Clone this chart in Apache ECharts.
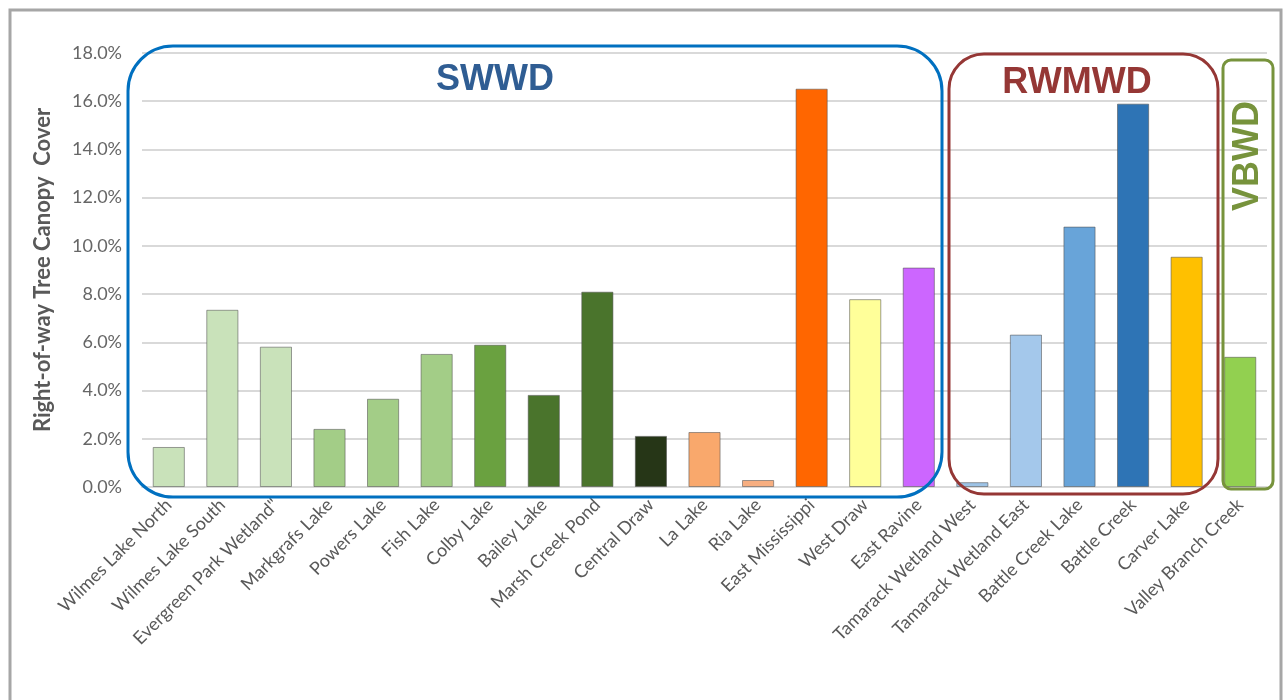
<!DOCTYPE html>
<html>
<head>
<meta charset="utf-8">
<script src="https://cdn.jsdelivr.net/npm/echarts@6/dist/echarts.min.js"></script>
<style>
  html, body { margin: 0; padding: 0; background: #fff; }
  #chart { width: 1286px; height: 700px; }
</style>
</head>
<body>
<div id="chart"></div>
<script>
// sites along the x axis
const sites = [
  'Wilmes Lake North', 'Wilmes Lake South', 'Evergreen Park Wetland"', 'Markgrafs Lake',
  'Powers Lake', 'Fish Lake', 'Colby Lake', 'Bailey Lake', 'Marsh Creek Pond',
  'Central Draw', 'La Lake', 'Ria Lake', 'East Mississippi', 'West Draw', 'East Ravine',
  'Tamarack Wetland West', 'Tamarack Wetland East', 'Battle Creek Lake', 'Battle Creek',
  'Carver Lake', 'Valley Branch Creek'
];
// canopy cover, percent
const canopy = [
  1.66, 7.35, 5.82, 2.41, 3.66, 5.52, 5.9, 3.82, 8.1,
  2.12, 2.28, 0.29, 16.52, 7.79, 9.1,
  0.2, 6.32, 10.8, 15.9, 9.55, 5.4
];
const barColors = [
  '#c9e2ba', '#c9e2ba', '#c9e2ba', '#a3cd87', '#a3cd87', '#a3cd87', '#6aa140', '#4a742c', '#4a742c',
  '#263617', '#f9a86c', '#f7ae80', '#ff6600', '#ffff99', '#cc66ff',
  '#9dc3e6', '#a4c8eb', '#68a4d9', '#2e74b5', '#ffc000', '#92d050'
];
const yTicks = [0, 2, 4, 6, 8, 10, 12, 14, 16, 18];

const chart = echarts.init(document.getElementById('chart'));

const option = {
  animation: false,
  textStyle: { fontFamily: 'Lato' },
  grid: { left: 142, right: 19, top: 53, bottom: 213 },
  xAxis: {
    type: 'category',
    data: sites,
    axisLine: { lineStyle: { color: '#d9d9d9', width: 2 } },
    axisTick: { show: false },
    axisLabel: {
      interval: 0,
      rotate: 45,
      margin: 15,
      fontSize: 18,
      color: '#595959'
    }
  },
  yAxis: {
    type: 'value',
    min: yTicks[0],
    max: yTicks[yTicks.length - 1],
    interval: 2,
    name: 'Right-of-way Tree Canopy  Cover',
    nameLocation: 'middle',
    nameGap: 88,
    nameTextStyle: { fontSize: 22, fontWeight: 'bold', color: '#595959' },
    axisLine: { show: false },
    axisTick: { show: false },
    axisLabel: {
      fontSize: 18,
      color: '#666666',
      margin: 20,
      formatter: v => v.toFixed(1) + '%'
    },
    splitLine: { lineStyle: { color: '#d9d9d9', width: 2 } }
  },
  series: [{
    type: 'bar',
    barCategoryGap: '40%',
    data: canopy.map((v, i) => ({
      value: v,
      itemStyle: { color: barColors[i] }
    })),
    itemStyle: { borderColor: 'rgba(80,80,80,0.55)', borderWidth: 1 }
  }],
  graphic: [
    {
      type: 'rect', silent: true,
      shape: { x: 10, y: 10, width: 1271, height: 720 },
      style: { fill: 'none', stroke: '#a6a6a6', lineWidth: 3 }
    },
    {
      type: 'rect', silent: true, z: 10,
      shape: { x: 128, y: 46, width: 814, height: 451, r: 45 },
      style: { fill: 'none', stroke: '#0070c0', lineWidth: 3 }
    },
    {
      type: 'rect', silent: true, z: 10,
      shape: { x: 949, y: 54, width: 269, height: 440, r: 35 },
      style: { fill: 'none', stroke: '#953735', lineWidth: 3 }
    },
    {
      type: 'rect', silent: true, z: 10,
      shape: { x: 1223, y: 60, width: 50, height: 429, r: 8 },
      style: { fill: 'none', stroke: '#77933c', lineWidth: 3 }
    },
    {
      type: 'text', silent: true, z: 10,
      x: 495, y: 80,
      style: {
        text: 'SWWD', fill: '#2f5d93', align: 'center', verticalAlign: 'middle',
        font: 'bold 36px "Liberation Sans", Arial, sans-serif'
      }
    },
    {
      type: 'text', silent: true, z: 10,
      x: 1077, y: 83,
      style: {
        text: 'RWMWD', fill: '#953735', align: 'center', verticalAlign: 'middle',
        font: 'bold 36px "Liberation Sans", Arial, sans-serif'
      }
    },
    {
      type: 'text', silent: true, z: 10,
      x: 1248, y: 156, rotation: Math.PI / 2,
      style: {
        text: 'VBWD', fill: '#77933c', align: 'center', verticalAlign: 'middle',
        font: 'bold 36px "Liberation Sans", Arial, sans-serif'
      }
    }
  ]
};

chart.setOption(option);
</script>
</body>
</html>
